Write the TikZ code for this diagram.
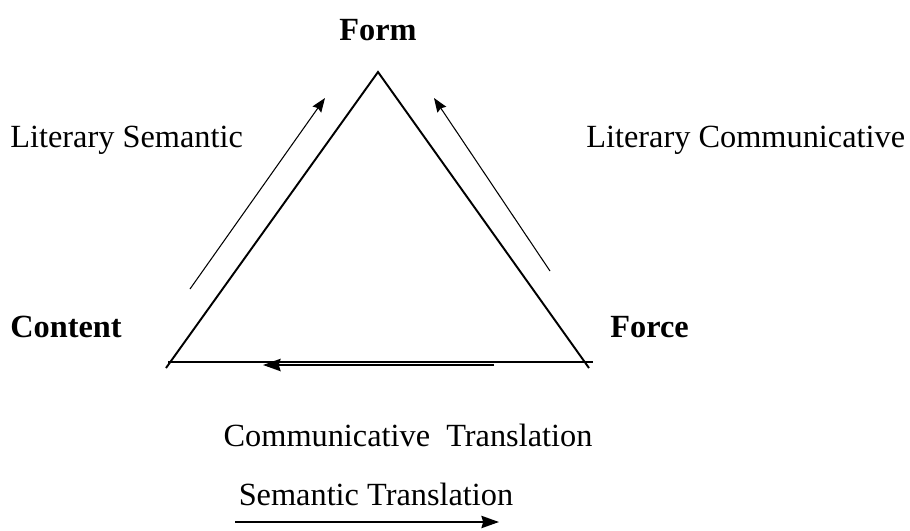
\documentclass[tikz,border=0pt]{standalone}
\usepackage{fontspec}
\setmainfont{Liberation Serif}
\usetikzlibrary{arrows.meta}

\begin{document}
\begin{tikzpicture}[x=0.02cm,y=-0.02cm,
  lbl/.style={inner sep=0pt,font=\fontsize{18.4}{22}\selectfont},
  corner/.style={lbl,font=\fontsize{18.4}{22}\selectfont\bfseries},
  side/.style={line width=1.1pt},
  flow/.style={-{Stealth[length=8pt,width=6pt,inset=1pt]},line width=0.6pt},
  bigflow/.style={-{Stealth[length=10pt,width=7pt,inset=1pt]},line width=1pt}]
  \useasboundingbox (0,0) rectangle (910,531);
  % triangle
  \coordinate (top) at (378,72);
  \coordinate (cl) at (166,368);
  \coordinate (cr) at (589,368);
  \coordinate (bl) at (168,362);
  \coordinate (br) at (593,362);
  \draw[side] (cl) -- (top) -- (cr);
  \draw[side] (bl) -- (br);
  % corner labels
  \node[corner] (form) at (378,30) {Form};
  \node[corner,anchor=west] (content) at (10,327) {Content};
  \node[corner,anchor=west] (force) at (610,327) {Force};
  % side labels
  \node[lbl,anchor=west] (litsem) at (10,140) {Literary Semantic};
  \node[lbl,anchor=west] (litcom) at (586,140) {Literary Communicative};
  \node[lbl] (comtr) at (408,435) {Communicative\ \ Translation};
  \node[lbl] (semtr) at (376,494) {Semantic Translation};
  % arrows
  \coordinate (a1) at (190,289);
  \coordinate (a2) at (325,98);
  \coordinate (b1) at (550,271);
  \coordinate (b2) at (434,98);
  \coordinate (c1) at (494,365);
  \coordinate (c2) at (263,365);
  \coordinate (d1) at (235,522);
  \coordinate (d2) at (499,522);
  \draw[flow] (a1) -- (a2);
  \draw[flow] (b1) -- (b2);
  \draw[bigflow,line width=1.1pt] (c1) -- (c2);
  \draw[bigflow] (d1) -- (d2);
\end{tikzpicture}
\end{document}
